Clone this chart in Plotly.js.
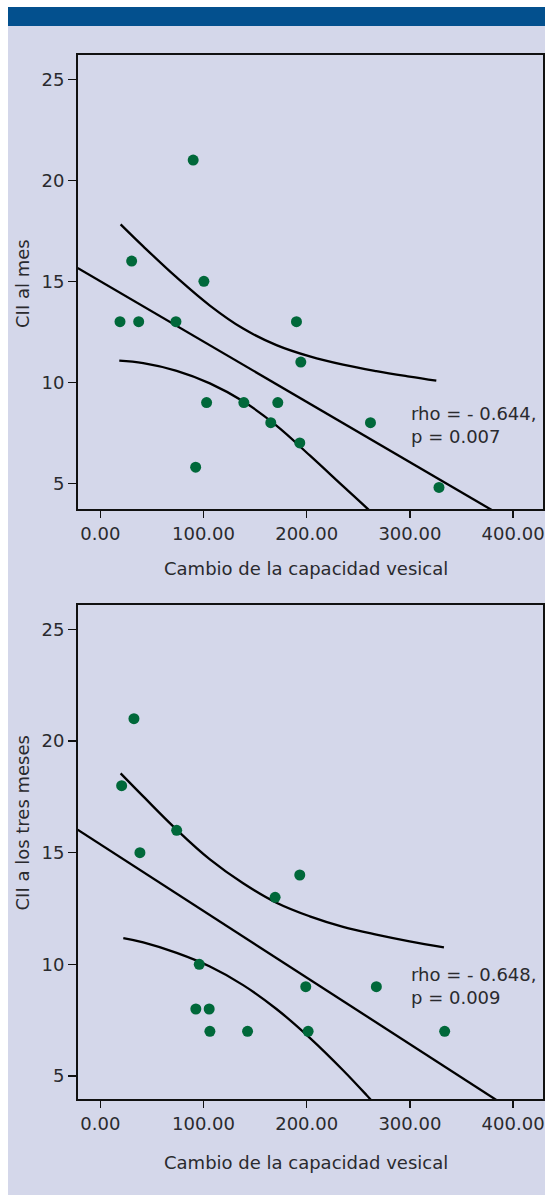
<!DOCTYPE html>
<html>
<head>
<meta charset="utf-8">
<script src="https://cdn.plot.ly/plotly-3.0.1.min.js"></script>
<style>html,body{margin:0;padding:0;background:#fff;}#chart{width:545px;height:1195px;}</style>
</head>
<body>
<div id="chart"></div>
<script>
// ---- Data ----
const topX = [90, 30.4, 100.4, 19.1, 37.2, 73.3, 190.1, 194.3, 103, 139.1, 172, 165.2, 261.8, 193.3, 92.4, 328.2];
const topY = [21, 16, 15, 13, 13, 13, 13, 11, 9, 9, 9, 8, 8, 7, 5.8, 4.8];
const topFitX = [-22, 380];
const topFitY = [15.66, 3.66];
const topUpperX = [19.7, 41.6, 74, 106.2, 138.4, 170.7, 203, 235.2, 267.5, 299.7, 325.6];
const topUpperY = [17.82, 16.73, 15.19, 13.8, 12.66, 11.84, 11.28, 10.87, 10.55, 10.28, 10.08];
const topLowerX = [18.4, 41.6, 74, 106.2, 138.4, 170.7, 203, 235.2, 259.4, 270];
const topLowerY = [11.07, 10.95, 10.57, 9.95, 9.06, 7.86, 6.38, 4.86, 3.72, 3.2];

const botX = [32.6, 20.7, 74, 38.4, 193.3, 169.4, 95.9, 199.1, 267.5, 92.6, 105.5, 106.2, 142.7, 201.4, 333.7];
const botY = [21, 18, 16, 15, 14, 13, 10, 9, 9, 8, 8, 7, 7, 7, 7];
const botFitX = [-22, 385];
const botFitY = [16.03, 3.89];
const botUpperX = [19.7, 41.6, 74, 106.2, 138.4, 170.7, 203, 235.2, 267.5, 299.7, 333];
const botUpperY = [18.55, 17.52, 16.03, 14.7, 13.63, 12.76, 12.15, 11.68, 11.33, 11.03, 10.76];
const botLowerX = [22.3, 41.6, 74, 106.2, 138.4, 170.7, 203, 235.2, 257.9, 268];
const botLowerY = [11.17, 10.98, 10.51, 9.9, 9.07, 8.0, 6.71, 5.26, 4.15, 3.63];

const xTicks = [0, 100, 200, 300, 400];
const yTicks = [5, 10, 15, 20, 25];
const xTitle = 'Cambio de la capacidad vesical';
const topYTitle = 'CII al mes';
const botYTitle = 'CII a los tres meses';
const topStat = 'rho = - 0.644,<br>p = 0.007';
const botStat = 'rho = - 0.648,<br>p = 0.009';

// ---- Styling ----
const W = 545, H = 1195;
const px = v => v / W;
const py = v => 1 - v / H;
const FONT = 'DejaVu Sans';
const FS = 18;
const TXT = '#2a2a2e';
const GREEN = '#00683a';
const BG = '#d4d7ea';

function markers(x, y, xa, ya) {
  return {x, y, xaxis: xa, yaxis: ya, type: 'scatter', mode: 'markers',
    marker: {color: GREEN, size: 11, line: {width: 0}}, hoverinfo: 'skip', showlegend: false};
}
function curve(x, y, xa, ya, shape) {
  return {x, y, xaxis: xa, yaxis: ya, type: 'scatter', mode: 'lines',
    line: {color: '#000', width: 2.3, shape: shape || 'spline', smoothing: 1.1}, hoverinfo: 'skip', showlegend: false};
}

const traces = [
  curve(topFitX, topFitY, 'x', 'y', 'linear'),
  curve(topUpperX, topUpperY, 'x', 'y'),
  curve(topLowerX, topLowerY, 'x', 'y'),
  markers(topX, topY, 'x', 'y'),
  curve(botFitX, botFitY, 'x2', 'y2', 'linear'),
  curve(botUpperX, botUpperY, 'x2', 'y2'),
  curve(botLowerX, botLowerY, 'x2', 'y2'),
  markers(botX, botY, 'x2', 'y2')
];

function xAxis(anchor, domainPx) {
  return {anchor, domain: [px(domainPx[0]), px(domainPx[1])], range: [-21.6, 428.5],
    tickmode: 'array', tickvals: xTicks, tickformat: '.2f', ticks: 'outside', ticklen: 7, tickwidth: 1.5,
    tickcolor: '#111', showline: true, linewidth: 2, linecolor: '#111', mirror: true,
    showgrid: false, zeroline: false, tickfont: {family: FONT, size: FS, color: TXT}};
}
function yAxis(anchor, topPx, botPx, range) {
  return {anchor, domain: [py(botPx), py(topPx)], range,
    tickmode: 'array', tickvals: yTicks, ticks: 'outside', ticklen: 8, tickwidth: 1.5,
    tickcolor: '#111', showline: true, linewidth: 2, linecolor: '#111', mirror: true,
    showgrid: false, zeroline: false, tickfont: {family: FONT, size: FS, color: TXT}};
}

const layout = {
  width: W, height: H,
  margin: {l: 0, r: 0, t: 0, b: 0},
  paper_bgcolor: '#ffffff',
  plot_bgcolor: BG,
  showlegend: false,
  xaxis: xAxis('y', [78, 542.5]),
  yaxis: yAxis('x', 55, 509, [3.73, 26.2]),
  xaxis2: xAxis('y2', [78, 542.5]),
  yaxis2: yAxis('x2', 605, 1099, [3.97, 26.09]),
  shapes: [
    {type: 'rect', xref: 'paper', yref: 'paper', x0: px(8), x1: 1, y0: 0, y1: py(7),
      fillcolor: BG, line: {width: 0}, layer: 'below'},
    {type: 'rect', xref: 'paper', yref: 'paper', x0: px(8), x1: 1, y0: py(26), y1: py(7),
      fillcolor: '#03508e', line: {width: 0}, layer: 'below'}
  ],
  annotations: [
    {xref: 'paper', yref: 'paper', x: px(306), y: py(568), text: xTitle, showarrow: false,
      xanchor: 'center', yanchor: 'middle', font: {family: FONT, size: FS, color: TXT}},
    {xref: 'paper', yref: 'paper', x: px(306), y: py(1162), text: xTitle, showarrow: false,
      xanchor: 'center', yanchor: 'middle', font: {family: FONT, size: FS, color: TXT}},
    {xref: 'paper', yref: 'paper', x: px(22), y: py(284), text: topYTitle, showarrow: false, textangle: -90,
      xanchor: 'center', yanchor: 'middle', font: {family: FONT, size: FS, color: TXT}},
    {xref: 'paper', yref: 'paper', x: px(22), y: py(823.5), text: botYTitle, showarrow: false, textangle: -90,
      xanchor: 'center', yanchor: 'middle', font: {family: FONT, size: FS, color: TXT}},
    {xref: 'paper', yref: 'paper', x: px(409), y: py(425.5), text: topStat, showarrow: false, align: 'left',
      xanchor: 'left', yanchor: 'middle', font: {family: FONT, size: FS, color: TXT}},
    {xref: 'paper', yref: 'paper', x: px(409), y: py(985.8), text: botStat, showarrow: false, align: 'left',
      xanchor: 'left', yanchor: 'middle', font: {family: FONT, size: FS, color: TXT}}
  ]
};

Plotly.newPlot('chart', traces, layout, {staticPlot: true, displayModeBar: false});
</script>
</body>
</html>
